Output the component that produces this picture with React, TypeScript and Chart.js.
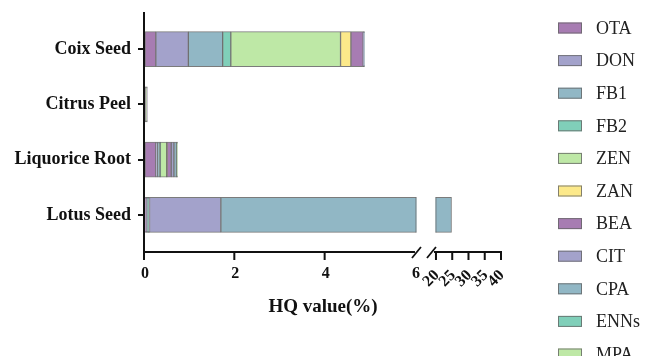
import React, { useEffect, useRef } from 'react';
import { Chart, registerables } from 'chart.js';

Chart.register(...registerables);

const categories = ['Coix Seed', 'Citrus Peel', 'Liquorice Root', 'Lotus Seed'];
const seriesNames = ['OTA', 'DON', 'FB1', 'FB2', 'ZEN', 'ZAN', 'BEA', 'CIT', 'CPA', 'ENNs', 'MPA'];

const OTA = [0.24, 0.005, 0.24, 0.03];
const DON = [0.72, 0, 0.03, 0.02];
const FB1 = [0.76, 0, 0.05, 0.02];
const FB2 = [0.18, 0, 0.02, 0.01];
const ZEN = [2.43, 0.04, 0.14, 0.01];
const ZAN = [0.23, 0, 0.01, 0];
const BEA = [0.27, 0.005, 0.09, 0.01];
const CIT = [0.02, 0, 0.06, 1.58];
const CPA = [0.01, 0, 0.06, 23.1];
const ENNs = [0, 0, 0.01, 0];
const MPA = [0, 0, 0.01, 0];

const seriesValues = [OTA, DON, FB1, FB2, ZEN, ZAN, BEA, CIT, CPA, ENNs, MPA];
const seriesColors = [
  '#A77CB2', '#A3A2CB', '#91B7C5', '#80CFB9', '#BEE8A6', '#FCE98A',
  '#A77CB2', '#A3A2CB', '#91B7C5', '#80CFB9', '#BEE8A6',
];

const lowTicks = [0, 2, 4, 6];
const highTicks = [20, 25, 30, 35, 40];

// broken-axis geometry (in units of the first segment)
const BREAK_LO = 6;
const BREAK_HI = 20;
const GAP = 0.443;
const RATIO = 0.072;

function toD(v: number): number {
  if (v <= BREAK_LO) return v;
  if (v >= BREAK_HI) return BREAK_LO + GAP + (v - BREAK_HI) * RATIO;
  return BREAK_LO;
}

const FONT = "'Liberation Serif', 'Times New Roman', serif";
const INK = '#111111';

const brokenAxisPlugin = {
  id: 'brokenAxis',
  afterDatasetsDraw(chart: any) {
    const ctx = chart.ctx;
    const xs = chart.scales.x;
    const area = chart.chartArea;
    const g1 = xs.getPixelForValue(toD(BREAK_LO));
    const g2 = xs.getPixelForValue(toD(BREAK_HI));
    ctx.save();
    ctx.fillStyle = '#ffffff';
    ctx.fillRect(g1 + 0.5, area.top, g2 - g1 - 1, area.bottom - area.top);
    ctx.strokeStyle = 'rgba(100,100,100,0.7)';
    ctx.lineWidth = 1;
    chart.data.datasets.forEach((ds: any, i: number) => {
      const meta = chart.getDatasetMeta(i);
      meta.data.forEach((el: any, j: number) => {
        const r = ds.data[j];
        if (!r) return;
        if (r[0] < BREAK_LO && r[1] > BREAK_LO + GAP / 2) {
          const p = el.getProps(['y', 'height'], true);
          const top = p.y - p.height / 2;
          const bot = p.y + p.height / 2;
          ctx.beginPath();
          ctx.moveTo(g1, top);
          ctx.lineTo(g1, bot);
          ctx.moveTo(g2, top);
          ctx.lineTo(g2, bot);
          ctx.stroke();
        }
      });
    });
    ctx.restore();
  },
  afterDraw(chart: any) {
    const ctx = chart.ctx;
    const xs = chart.scales.x;
    const area = chart.chartArea;
    const x0 = xs.getPixelForValue(0);
    const ay = area.bottom + 9.4;
    const g1 = xs.getPixelForValue(toD(BREAK_LO));
    const g2 = xs.getPixelForValue(toD(BREAK_HI));
    const xEnd = xs.getPixelForValue(toD(highTicks[highTicks.length - 1]));
    ctx.save();
    ctx.strokeStyle = INK;
    ctx.lineWidth = 2;
    ctx.lineCap = 'butt';
    // y axis
    ctx.beginPath();
    ctx.moveTo(x0 - 1, area.top - 9.4);
    ctx.lineTo(x0 - 1, ay + 1);
    ctx.stroke();
    // x axis segments
    ctx.beginPath();
    ctx.moveTo(x0 - 2, ay);
    ctx.lineTo(g1 - 1, ay);
    ctx.moveTo(g2 - 2, ay);
    ctx.lineTo(xEnd + 1, ay);
    ctx.stroke();
    // break slashes
    ctx.lineWidth = 1.8;
    ctx.beginPath();
    ctx.moveTo(g1 - 4, ay + 6);
    ctx.lineTo(g1 + 5, ay - 5);
    ctx.moveTo(g2 - 9, ay + 6);
    ctx.lineTo(g2, ay - 5);
    ctx.stroke();
    // ticks
    ctx.lineWidth = 2;
    ctx.beginPath();
    lowTicks.forEach((t) => {
      if (t === BREAK_LO) return;
      const px = xs.getPixelForValue(toD(t)) - 1;
      ctx.moveTo(px, ay);
      ctx.lineTo(px, ay + 8);
    });
    highTicks.forEach((t) => {
      const px = xs.getPixelForValue(toD(t));
      ctx.moveTo(px, ay);
      ctx.lineTo(px, ay + 8);
    });
    ctx.stroke();
    // tick labels
    ctx.fillStyle = INK;
    ctx.font = `bold 16px ${FONT}`;
    ctx.textAlign = 'center';
    ctx.textBaseline = 'middle';
    lowTicks.forEach((t) => {
      const px = xs.getPixelForValue(toD(t));
      ctx.fillText(String(t), px, ay + 22);
    });
    highTicks.forEach((t) => {
      const px = xs.getPixelForValue(toD(t));
      ctx.save();
      ctx.translate(px + 1, ay + 21);
      ctx.rotate(-Math.PI / 4);
      ctx.textAlign = 'right';
      ctx.fillText(String(t), 0, 0);
      ctx.restore();
    });
    // axis title
    ctx.font = `bold 19px ${FONT}`;
    ctx.textAlign = 'center';
    ctx.fillText('HQ value(%)', (x0 + xEnd) / 2, 307);
    ctx.restore();
  },
};

const legendPlugin = {
  id: 'sideLegend',
  afterDraw(chart: any) {
    const ctx = chart.ctx;
    ctx.save();
    ctx.font = `18px ${FONT}`;
    ctx.textAlign = 'left';
    ctx.textBaseline = 'middle';
    chart.data.datasets.forEach((ds: any, i: number) => {
      const y = 28 + 32.6 * i;
      ctx.fillStyle = ds.backgroundColor;
      ctx.fillRect(558, y - 5.5, 24, 11);
      ctx.strokeStyle = 'rgba(100,100,100,0.8)';
      ctx.lineWidth = 1;
      ctx.strokeRect(558.5, y - 5, 23, 10);
      ctx.fillStyle = '#222222';
      ctx.fillText(ds.label, 596, y + 1);
    });
    ctx.restore();
  },
};

export default function App() {
  const ref = useRef<HTMLCanvasElement | null>(null);

  useEffect(() => {
    if (!ref.current) return;
    const datasets = seriesNames.map((name, i) => ({
      label: name,
      data: categories.map((_, c) => {
        const v = seriesValues[i][c];
        if (!v) return null;
        let start = 0;
        for (let k = 0; k < i; k++) start += seriesValues[k][c];
        return [toD(start), toD(start + v)];
      }),
      backgroundColor: seriesColors[i],
      borderColor: 'rgba(90,90,90,0.8)',
      borderWidth: 1,
      borderSkipped: false,
      grouped: false,
      barThickness: 35,
    }));

    const chart = new Chart(ref.current, {
      type: 'bar',
      data: { labels: categories, datasets: datasets as any },
      options: {
        indexAxis: 'y',
        animation: false,
        responsive: false,
        devicePixelRatio: 1,
        layout: { padding: { left: 0, top: 21.4, right: 144, bottom: 113.4 } },
        plugins: { legend: { display: false }, tooltip: { enabled: false } },
        scales: {
          x: { type: 'linear', display: false, min: 0, max: toD(highTicks[highTicks.length - 1]) },
          y: {
            type: 'category',
            offset: true,
            border: { display: false },
            grid: {
              display: true,
              drawOnChartArea: false,
              drawTicks: true,
              tickLength: 7,
              color: INK,
              lineWidth: 2,
              offset: false,
            },
            ticks: {
              color: INK,
              padding: 7,
              font: { family: FONT, size: 18, weight: 'bold' },
            },
            afterFit: (s: any) => {
              s.width = 145;
            },
          },
        },
      } as any,
      plugins: [brokenAxisPlugin, legendPlugin],
    });
    return () => chart.destroy();
  }, []);

  return (
    <div style={{ position: 'fixed', left: 0, top: 0, width: 645, height: 356, background: '#fff' }}>
      <canvas ref={ref} width={645} height={356} style={{ width: 645, height: 356, display: 'block' }} />
    </div>
  );
}
